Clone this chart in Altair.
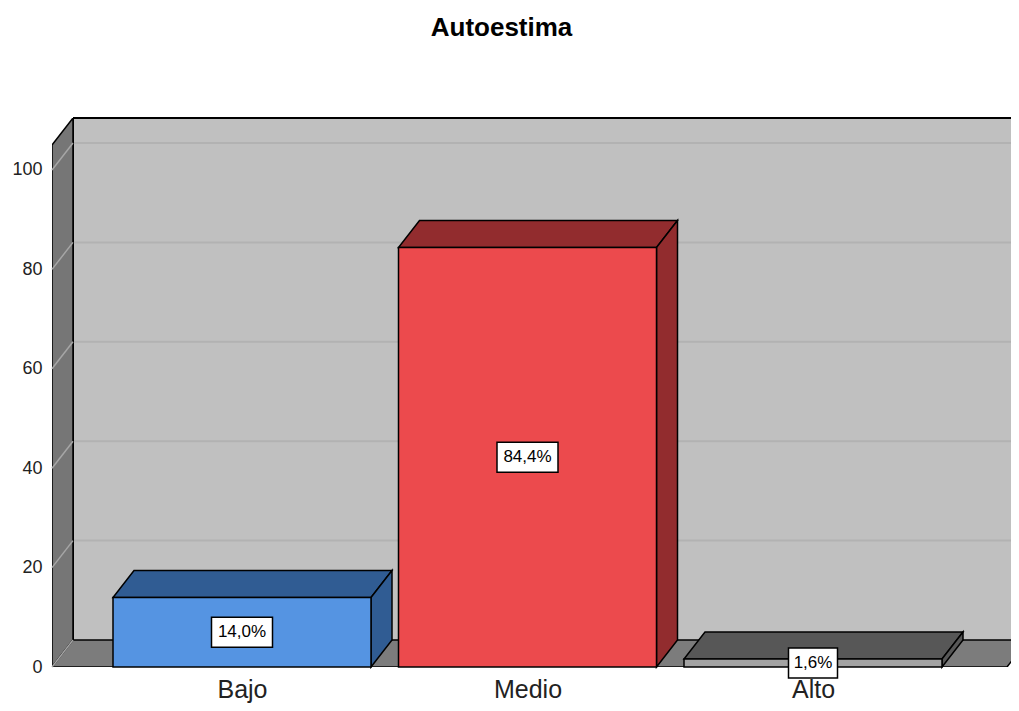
import json
import altair as alt
import pandas as pd

# ---- data ----
categories = ["Bajo", "Medio", "Alto"]
values = [14.0, 84.4, 1.6]
value_labels = ["14,0%", "84,4%", "1,6%"]
front_colors = ["#5594e2", "#ec4a4d", "#a3a3a3"]
side_colors = ["#305c93", "#922c2e", "#575757"]
y_ticks = [0, 20, 40, 60, 80, 100]
title_text = "Autoestima"

# ---- layout / style constants ----
W, H = 959, 549
PXX = 285.5            # pixels per category step
XMIN = -0.6655
XMAX = XMIN + W / PXX
YMAX = 110.46
PXY = H / YMAX
DX = 21 / PXX          # 3D depth, horizontal
DY = 27 / PXY          # 3D depth, vertical
HALF = 129 / PXX       # half bar width
WALL_FRONT_TOP = YMAX - DY
FLOOR_R = 2.6795
FONT = "Liberation Sans"

xs = alt.Scale(domain=[XMIN, XMAX], nice=False, zero=False)
ys = alt.Scale(domain=[0, YMAX], nice=False, zero=False)

label_expr = json.dumps(categories) + "[round(datum.value)]"
X_AX = alt.Axis(values=[0, 1, 2], labelExpr=label_expr, domain=False, ticks=False, grid=False,
                labelFont=FONT, labelFontSize=25, labelColor="#222222", labelPadding=10, title=None)
Y_AX = alt.Axis(values=y_ticks, domain=False, ticks=False, grid=False, labelFont=FONT,
                labelFontSize=18, labelColor="#222222", labelPadding=10, title=None)


def X(f):
    return alt.X(f, scale=xs, axis=X_AX)


def Y(f):
    return alt.Y(f, scale=ys, axis=Y_AX, stack=None)


# ---- tables built from the arrays ----
bars = pd.DataFrame({
    "cat": categories,
    "i": list(range(len(categories))),
    "v": values,
    "lab": value_labels,
    "front": front_colors,
})
bars["x0"] = bars["i"] - HALF
bars["x1"] = bars["i"] + HALF
bars["y0"] = 0.0
bars["mid"] = bars["v"] / 2
bars["bw"] = (bars["lab"].str.len() * 12 + 1) / PXX / 2
bars["bx0"] = bars["i"] - bars["bw"]
bars["bx1"] = bars["i"] + bars["bw"]
bars["by0"] = bars["mid"] - 15 / PXY
bars["by1"] = bars["mid"] + 15 / PXY

face_rows = []
for i, (v, c) in enumerate(zip(values, side_colors)):
    x0, x1 = i - HALF, i + HALF
    for (x, y, y2) in [(x0, v, v), (x0 + DX, v, v + DY), (x1, v, v + DY), (x1 + DX, v + DY, v + DY)]:
        face_rows.append({"face": f"top{i}", "x": x, "y": y, "y2": y2, "fill": c})
    for (x, y, y2) in [(x1, 0, v), (x1 + DX, DY, v + DY)]:
        face_rows.append({"face": f"side{i}", "x": x, "y": y, "y2": y2, "fill": c})
faces = pd.DataFrame(face_rows)

frame_rows = [
    {"face": "wall", "x": XMIN, "y": 0, "y2": WALL_FRONT_TOP, "fill": "#767676"},
    {"face": "wall", "x": XMIN + DX, "y": DY, "y2": YMAX, "fill": "#767676"},
    {"face": "floor", "x": XMIN, "y": 0, "y2": 0, "fill": "#7c7c7c"},
    {"face": "floor", "x": XMIN + DX, "y": 0, "y2": DY, "fill": "#7c7c7c"},
    {"face": "floor", "x": FLOOR_R, "y": 0, "y2": DY, "fill": "#7c7c7c"},
    {"face": "floor", "x": FLOOR_R + DX, "y": DY, "y2": DY, "fill": "#7c7c7c"},
]
frame = pd.DataFrame(frame_rows)

grid = pd.DataFrame({"v": y_ticks})
grid["yb"] = grid["v"] + DY
grid["xa"] = XMIN
grid["xb"] = XMIN + DX
grid["xe"] = XMAX

back = pd.DataFrame({"x": [XMIN + DX], "x2": [XMAX], "y": [DY], "y2": [YMAX]})

back_wall = alt.Chart(back).mark_rect(fill="#c0c0c0", clip=True).encode(
    x=X("x:Q"), x2="x2:Q", y=Y("y:Q"), y2="y2:Q",
)

back_grid = alt.Chart(grid[grid["v"] > 0]).mark_rule(color="#b2b2b2", strokeWidth=2, clip=True).encode(
    x=X("xb:Q"), x2="xe:Q", y=Y("yb:Q"),
)

back_left = alt.Chart(back).mark_rule(color="black", strokeWidth=2).encode(
    x=X("x:Q"), y=Y("y:Q"), y2="y2:Q",
)
back_top = alt.Chart(back).mark_rule(color="black", strokeWidth=2).encode(
    x=X("x:Q"), x2="x2:Q", y=Y("y2:Q"),
)

frame_layer = alt.Chart(frame).mark_area(stroke="black", strokeWidth=1.5, interpolate="linear",
                                         clip=True, strokeJoin="miter").encode(
    x=X("x:Q"), y=Y("y:Q"), y2="y2:Q",
    detail="face:N",
    fill=alt.Fill("fill:N", scale=None),
)

wall_grid = alt.Chart(grid).mark_rule(color="#a6a6a6", strokeWidth=1.5).encode(
    x=X("xa:Q"), x2="xb:Q", y=Y("v:Q"), y2="yb:Q",
)

faces_layer = alt.Chart(faces).mark_area(stroke="black", strokeWidth=1.5, interpolate="linear",
                                         strokeJoin="miter").encode(
    x=X("x:Q"), y=Y("y:Q"), y2="y2:Q",
    detail="face:N",
    fill=alt.Fill("fill:N", scale=None),
)

fronts = alt.Chart(bars).mark_rect(stroke="black", strokeWidth=1.5).encode(
    x=X("x0:Q"), x2="x1:Q", y=Y("y0:Q"), y2="v:Q",
    fill=alt.Fill("front:N", scale=None),
)

boxes = alt.Chart(bars).mark_rect(fill="white", stroke="black", strokeWidth=1.5).encode(
    x=X("bx0:Q"), x2="bx1:Q", y=Y("by0:Q"), y2="by1:Q",
)

texts = alt.Chart(bars).mark_text(font=FONT, fontSize=17, color="black", baseline="middle",
                                  align="center").encode(
    x=X("i:Q"), y=Y("mid:Q"), text="lab:N",
)

chart = alt.layer(
    back_wall, back_grid, back_left, back_top, frame_layer, wall_grid, faces_layer, fronts, boxes, texts
).properties(
    width=W, height=H,
    autosize=alt.AutoSizeParams(type="none"),
    padding={"left": 44, "top": 110, "right": 0, "bottom": 36},
    title=alt.TitleParams(title_text, font=FONT, fontSize=26, fontWeight="bold", color="black",
                          offset=76, dx=-30, anchor="middle"),
).configure_view(stroke=None)

chart.save("out.html", embed_options={"renderer": "svg", "actions": False})
